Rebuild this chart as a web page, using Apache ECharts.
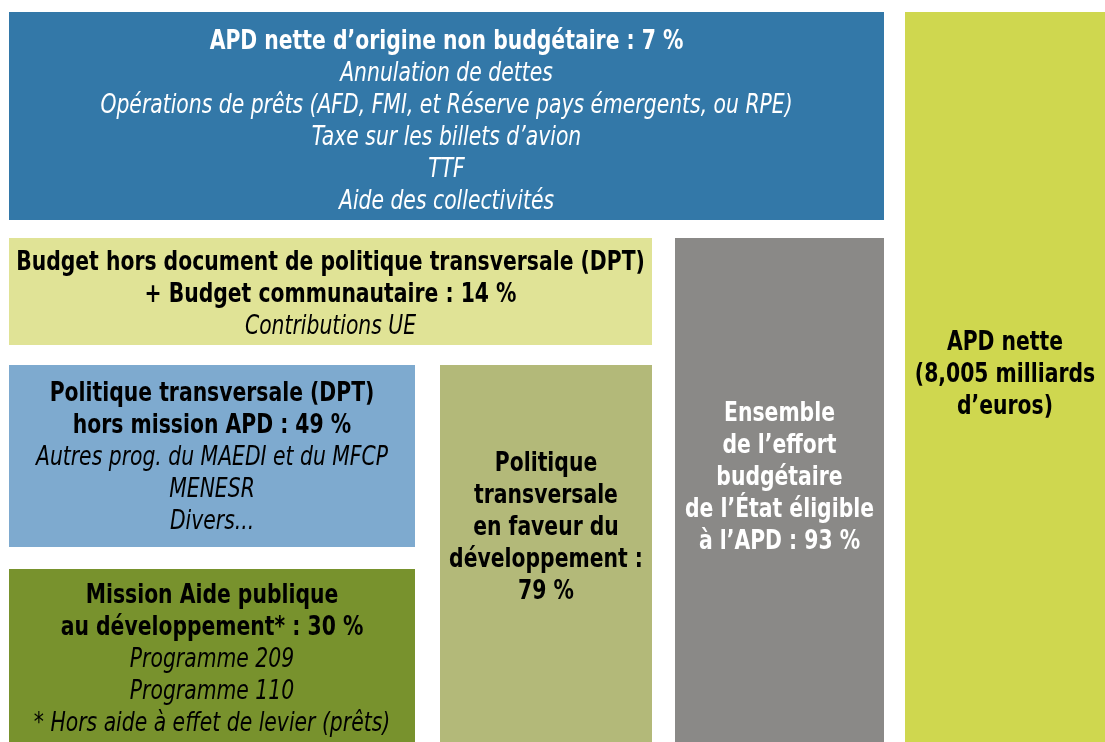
<!DOCTYPE html>
<html>
<head>
<meta charset="utf-8">
<script src="https://cdn.jsdelivr.net/npm/echarts@6/dist/echarts.min.js"></script>
<style>
  html, body { margin: 0; padding: 0; background: #fff; }
  #main { width: 1105px; height: 742px; }
</style>
</head>
<body>
<div id="main"></div>
<script>
// blocs du schéma (unités de l'axe = pixels de la page)
const boxNames = ['nonBudget', 'horsDPT', 'dptHorsMission', 'missionAPD', 'dptTotal', 'effortEtat', 'apdNette'];
const boxLeft = [9, 9, 9, 9, 440, 675, 905];
const boxRight = [884, 652, 415, 415, 652, 884, 1105];
const boxTop = [12, 238, 365, 569, 365, 238, 12];
const boxBottom = [220, 345, 547, 742, 742, 742, 742];

const boldLines = [
    ['APD nette d’origine non budgétaire : 7 %'],
    ['Budget hors document de politique transversale (DPT)', '+ Budget communautaire : 14 %'],
    ['Politique transversale (DPT)', 'hors mission APD : 49 %'],
    ['Mission Aide publique', 'au développement* : 30 %'],
    ['Politique', 'transversale', 'en faveur du', 'développement :', '79 %'],
    ['Ensemble', 'de l’effort', 'budgétaire', 'de l’État éligible', 'à l’APD : 93 %'],
    ['APD nette', '(8,005 milliards', 'd’euros)']
];
const italicLines = [
    ['Annulation de dettes', 'Opérations de prêts (AFD, FMI, et Réserve pays émergents, ou RPE)', 'Taxe sur les billets d’avion', 'TTF', 'Aide des collectivités'],
    ['Contributions UE'],
    ['Autres prog. du MAEDI et du MFCP', 'MENESR', 'Divers...'],
    ['Programme 209', 'Programme 110', '* Hors aide à effet de levier (prêts)'],
    [],
    [],
    []
];

const fills = ['#3378a8', '#e0e396', '#7eaacf', '#78922d', '#b3b979', '#8a8987', '#cfd74f'];
const textColors = ['#fff', '#000', '#000', '#000', '#000', '#fff', '#000'];
const textShift = [6, 4, 2, 5, -25, -12, -2];

// police condensée : DejaVu Sans Condensed resserrée horizontalement
const fontFam = '"Liberation Sans Narrow", "DejaVu Sans Condensed", "Roboto Condensed", sans-serif';
const squeeze = 0.87;

const myChart = echarts.init(document.getElementById('main'));

const seriesData = boxNames.map((n, i) => ({
    name: n,
    value: [boxLeft[i], boxRight[i], boxTop[i], boxBottom[i]]
}));

function renderItem(params, api) {
    const i = params.dataIndex;
    const p0 = api.coord([api.value(0), api.value(2)]);
    const p1 = api.coord([api.value(1), api.value(3)]);
    const lines = boldLines[i].map(l => '{b|' + l + '}')
        .concat(italicLines[i].map(l => '{i|' + l + '}'));
    return {
        type: 'group',
        children: [{
            type: 'rect',
            shape: {x: p0[0], y: p0[1], width: p1[0] - p0[0], height: p1[1] - p0[1]},
            style: {fill: fills[i]}
        }, {
            type: 'text',
            x: (p0[0] + p1[0]) / 2,
            y: (p0[1] + p1[1]) / 2 + textShift[i],
            scaleX: squeeze,
            style: {
                text: lines.join('\n'),
                align: 'center',
                verticalAlign: 'middle',
                fill: textColors[i],
                rich: {
                    b: {fontFamily: fontFam, fontWeight: 'bold', fontSize: 26, lineHeight: 32, fill: textColors[i]},
                    i: {fontFamily: fontFam, fontStyle: 'italic', fontSize: 26, lineHeight: 32, fill: textColors[i]}
                }
            }
        }]
    };
}

const option = {
    animation: false,
    grid: {left: 0, right: 0, top: 0, bottom: 0},
    xAxis: {type: 'value', min: 0, max: 1105, show: false},
    yAxis: {type: 'value', min: 0, max: 742, inverse: true, show: false},
    series: [{
        type: 'custom',
        renderItem: renderItem,
        data: seriesData
    }]
};

myChart.setOption(option);
</script>
</body>
</html>
